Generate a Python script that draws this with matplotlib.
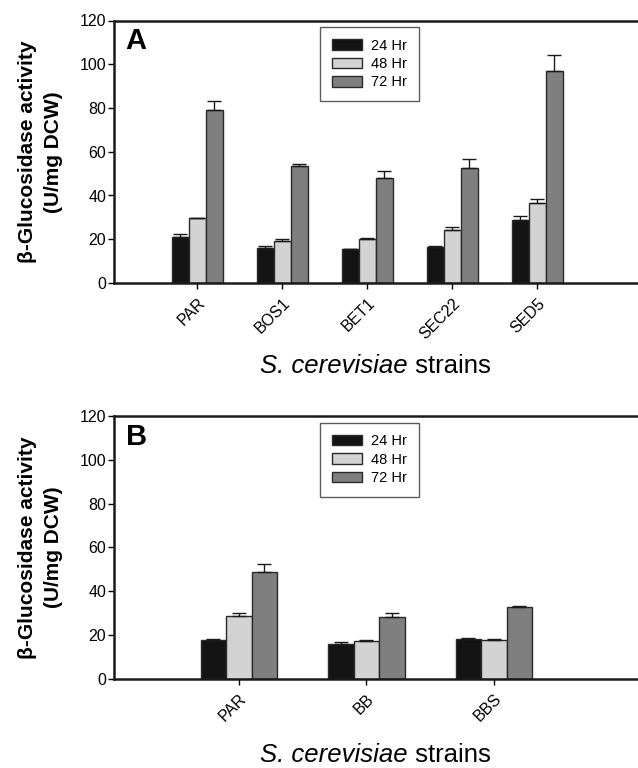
"""
β-Glucosidase activity of S. cerevisiae strains (panels A and B)
"""

import numpy as np
import matplotlib
matplotlib.use("Agg")
import matplotlib.pyplot as plt
from matplotlib.patches import Patch

plt.rcParams['font.family'] = ['Liberation Sans', 'DejaVu Sans']

# panel A data
strains_a = ["PAR", "BOS1", "BET1", "SEC22", "SED5"]
a_24 = [21.2, 16.2, 15.4, 16.5, 28.9]
a_48 = [29.5, 19.2, 20.0, 24.0, 36.5]
a_72 = [79.2, 53.4, 48.2, 52.4, 97.1]
a_24_err = [1.4, 0.6, 0.2, 0.3, 1.5]
a_48_err = [0.2, 1.1, 0.6, 1.8, 1.7]
a_72_err = [3.8, 1.2, 3.2, 4.1, 7.2]

# panel B data
strains_b = ["PAR", "BB", "BBS"]
b_24 = [17.8, 16.0, 18.0]
b_48 = [28.5, 17.2, 17.5]
b_72 = [48.7, 28.2, 32.6]
b_24_err = [0.5, 0.6, 0.7]
b_48_err = [1.7, 0.3, 0.5]
b_72_err = [3.6, 2.0, 0.8]

series_labels = ["24 Hr", "48 Hr", "72 Hr"]
colors = ["#141414", "#d3d3d3", "#7f7f7f"]

W, H = 638, 768


def draw_panel(fig, ax, strains, vals, errs, letter, spacing_px, xlabel_y):
    x = np.arange(len(strains))
    width = 0.2
    for i, (v, e) in enumerate(zip(vals, errs)):
        pos = x + (i - 1) * width
        ax.bar(pos, v, width, color=colors[i], edgecolor="#2a2a2a",
               linewidth=1.0, zorder=2)
        ax.errorbar(pos, v, yerr=[np.zeros(len(e)), e], fmt="none",
                    ecolor="#1a1a1a", elinewidth=1.0, capsize=5,
                    capthick=1.0, zorder=3)

    ax_width_px = W - 114 + 2
    ax.set_xlim(-0.98, -0.98 + ax_width_px / spacing_px)
    ax.set_ylim(0, 120)
    ax.set_yticks(range(0, 121, 20))
    ax.set_xticks(x)
    ax.set_xticklabels(strains, rotation=45, ha="right",
                       rotation_mode="anchor", fontsize=11.5)
    ax.tick_params(axis="y", labelsize=11.5, length=4, width=1.0,
                   direction="out", pad=1.5)
    ax.tick_params(axis="x", length=4, width=1.0, direction="out", pad=5)

    for side in ["left", "bottom", "top"]:
        ax.spines[side].set_linewidth(1.8)
        ax.spines[side].set_color("#1a1a1a")
    ax.spines["right"].set_visible(False)

    ax.set_ylabel("β-Glucosidase activity\n(U/mg DCW)", fontsize=15,
                  fontweight="bold", labelpad=12, linespacing=1.5)

    # x label: italic species name followed by plain "strains"
    split_x = 408 / W
    fig.text(split_x, 1 - xlabel_y / H, "S. cerevisiae", fontsize=18.5,
             style="italic", ha="right", va="center")
    fig.text(split_x, 1 - xlabel_y / H, " strains", fontsize=18.5,
             ha="left", va="center")

    ax.text(0.022, 0.975, letter, transform=ax.transAxes, fontsize=21,
            fontweight="bold", va="top", ha="left")

    handles = [Patch(facecolor=colors[i], edgecolor="#2a2a2a", linewidth=1.0,
                     label=series_labels[i]) for i in range(3)]
    leg = ax.legend(handles=handles, loc="upper left",
                    bbox_to_anchor=(0.392, 0.975), borderaxespad=0,
                    fontsize=10.5, frameon=True, fancybox=False,
                    handlelength=2.1, handleheight=0.75, handletextpad=0.6,
                    labelspacing=0.3, borderpad=0.8)
    leg.get_frame().set_edgecolor("#333333")
    leg.get_frame().set_linewidth(1.0)


fig = plt.figure(figsize=(W / 100, H / 100), dpi=100)

left = 114 / W
width = (W - 114 + 2) / W
ax_a = fig.add_axes([left, 1 - 283 / H, width, (283 - 20.5) / H])
ax_b = fig.add_axes([left, 1 - 678.7 / H, width, (678.7 - 416) / H])

draw_panel(fig, ax_a, strains_a, [a_24, a_48, a_72],
           [a_24_err, a_48_err, a_72_err], "A", 85.0, 366)
draw_panel(fig, ax_b, strains_b, [b_24, b_48, b_72],
           [b_24_err, b_48_err, b_72_err], "B", 127.5, 755)

fig.savefig("out.png", dpi=100)
plt.close(fig)
